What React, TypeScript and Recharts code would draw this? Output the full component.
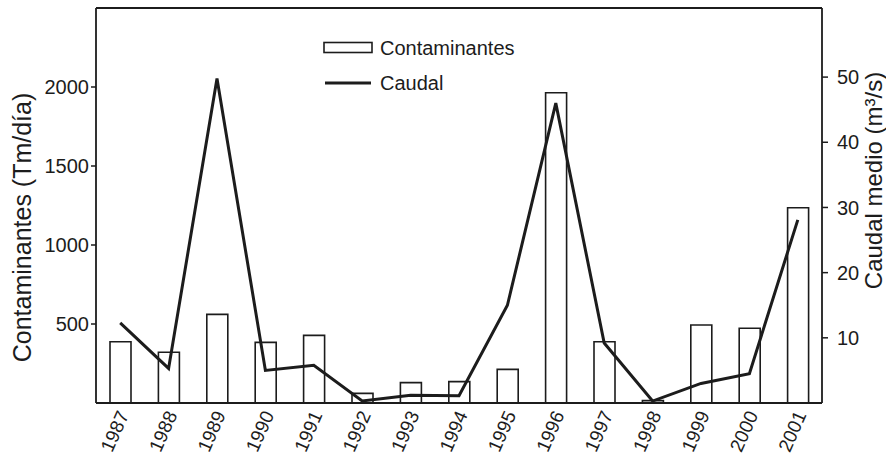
import React from 'react';
import { ComposedChart, Bar, Line, XAxis, YAxis, ReferenceLine, Legend } from 'recharts';

const years = ['1987', '1988', '1989', '1990', '1991', '1992', '1993', '1994', '1995', '1996', '1997', '1998', '1999', '2000', '2001'];
const contaminantes = [388, 321, 561, 384, 428, 61, 129, 135, 213, 1964, 388, 15, 494, 473, 1236];
const caudal = [12.3, 5.3, 49.8, 5.0, 5.8, 0.3, 1.2, 1.1, 15.0, 46.0, 9.2, 0.3, 3.0, 4.5, 28.1];
const leftTicks = [500, 1000, 1500, 2000];
const rightTicks = [10, 20, 30, 40, 50];

const data = years.map((y, i) => ({ year: y, contaminantes: contaminantes[i], caudal: caudal[i] }));

const FONT = '"Liberation Sans", Arial, sans-serif';
const INK = '#1c1c1c';

const XTick = (props: any) => {
  const { x, y, payload } = props;
  return (
    <g transform={`translate(${x + 3},${y + 1})`}>
      <text transform="rotate(-66)" textAnchor="end" dy="0.35em" fontSize={19} fontFamily={FONT} fill={INK}>
        {payload.value}
      </text>
    </g>
  );
};

const LeftTitle = (props: any) => {
  const vb = props.viewBox;
  const cx = vb.x - 14;
  const cy = vb.y + vb.height / 2 + 22;
  return (
    <text x={cx} y={cy} transform={`rotate(-90, ${cx}, ${cy})`} textAnchor="middle" dominantBaseline="central" fontSize={25} fontFamily={FONT} fill={INK}>
      Contaminantes (Tm/día)
    </text>
  );
};

const RightTitle = (props: any) => {
  const vb = props.viewBox;
  const cx = vb.x + vb.width + 1;
  const cy = vb.y + vb.height / 2 - 25;
  return (
    <text x={cx} y={cy} transform={`rotate(-90, ${cx}, ${cy})`} textAnchor="middle" dominantBaseline="central" fontSize={24} fontFamily={FONT} fill={INK}>
      Caudal medio (m³/s)
    </text>
  );
};

const LegendContent = () => (
  <div style={{ fontFamily: FONT, fontSize: 20, color: INK, lineHeight: '22px' }}>
    <div style={{ display: 'flex', alignItems: 'center', height: 35 }}>
      <svg width={52} height={14} style={{ marginRight: 5 }}>
        <rect x={1} y={1.5} width={48} height={10} fill="#fff" stroke={INK} strokeWidth={1.6} />
      </svg>
      <span>Contaminantes</span>
    </div>
    <div style={{ display: 'flex', alignItems: 'center', height: 35 }}>
      <svg width={52} height={14} style={{ marginRight: 5 }}>
        <line x1={2} y1={7} x2={48} y2={7} stroke={INK} strokeWidth={3} />
      </svg>
      <span>Caudal</span>
    </div>
  </div>
);

export default function App() {
  return (
    <div style={{ position: 'absolute', left: 0, top: 0, width: 886, height: 458, background: '#fff' }}>
      <ComposedChart width={886} height={458} data={data} margin={{ top: 8, right: 14, bottom: 5, left: 36 }}>
        <XAxis
          dataKey="year"
          xAxisId="x"
          height={50}
          tickLine={false}
          axisLine={{ stroke: INK, strokeWidth: 1.8 }}
          tick={<XTick />}
          interval={0}
        />
        <YAxis
          yAxisId="left"
          width={60}
          domain={[0, 2500]}
          ticks={leftTicks}
          tickSize={5}
          tickLine={{ stroke: INK, strokeWidth: 1.5 }}
          axisLine={{ stroke: INK, strokeWidth: 1.8 }}
          tick={{ fontSize: 20, fontFamily: FONT, fill: INK }}
          label={<LeftTitle />}
        />
        <YAxis
          yAxisId="right"
          orientation="right"
          width={50}
          domain={[0, 60.6]}
          ticks={rightTicks}
          tickSize={6}
          tickMargin={9}
          tickLine={{ stroke: INK, strokeWidth: 1.5 }}
          axisLine={{ stroke: INK, strokeWidth: 1.8 }}
          tick={{ fontSize: 20, fontFamily: FONT, fill: INK }}
          label={<RightTitle />}
        />
        <ReferenceLine yAxisId="left" xAxisId="x" y={2500} stroke={INK} strokeWidth={1.8} />
        <Legend
          content={<LegendContent />}
          layout="vertical"
          verticalAlign="middle"
          align="center"
          wrapperStyle={{ left: 323, top: 30, width: 220 }}
        />
        <Bar
          dataKey="contaminantes"
          name="Contaminantes"
          xAxisId="x"
          yAxisId="left"
          barSize={21}
          fill="#ffffff"
          stroke={INK}
          strokeWidth={1.6}
          isAnimationActive={false}
        />
        <Line
          dataKey="caudal"
          name="Caudal"
          xAxisId="x"
          yAxisId="right"
          type="linear"
          stroke={INK}
          strokeWidth={3}
          dot={false}
          activeDot={false}
          isAnimationActive={false}
        />
      </ComposedChart>
    </div>
  );
}
